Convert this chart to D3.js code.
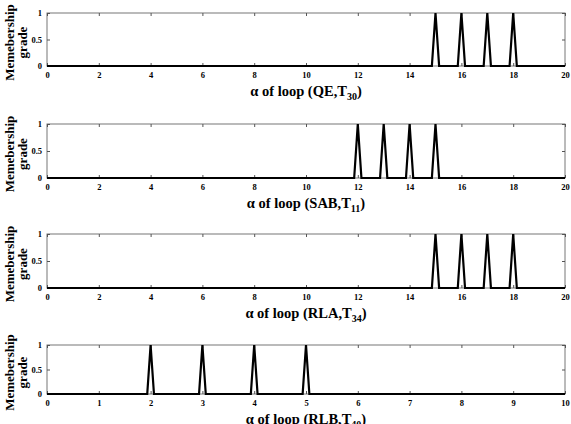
<!DOCTYPE html>
<html>
<head>
<meta charset="utf-8">
<script src="https://cdn.jsdelivr.net/npm/d3@7"></script>
<style>
  body { margin: 0; background: #fff; }
  text { font-family: "Liberation Serif", "Times New Roman", serif; font-weight: bold; fill: #000; }
</style>
</head>
<body>
<svg id="chart"></svg>
<script>
// peaks of each membership function (one triangle per value)
var peaksQE  = [15, 16, 17, 18];
var peaksSAB = [12, 13, 14, 15];
var peaksRLA = [15, 16, 17, 18];
var peaksRLB = [2, 3, 4, 5];

var names    = ["QE", "SAB", "RLA", "RLB"];
var subs     = ["30", "11", "34", "40"];
var xMaxes   = [20, 20, 20, 10];
var xSteps   = [2, 2, 2, 1];
var halfBase = [0.14, 0.14, 0.14, 0.065];
var yTicks   = [0, 0.5, 1];

var panels = [peaksQE, peaksSAB, peaksRLA, peaksRLB];
var tops = [13, 124, 234, 345];
var heights = [53, 54, 54, 49];

var W = 571, H = 424, left = 47, right = 565;

var svg = d3.select("#chart").attr("width", W).attr("height", H);

panels.forEach(function(peaks, i) {
  var top = tops[i], h = heights[i];
  var g = svg.append("g").attr("transform", "translate(0," + top + ")");

  var x = d3.scaleLinear().domain([0, xMaxes[i]]).range([left, right]);
  var y = d3.scaleLinear().domain([0, 1]).range([h, 0]);
  var xt = d3.range(0, xMaxes[i] + 0.001, xSteps[i]);

  // frame
  g.append("rect").attr("x", left).attr("y", 0).attr("width", right - left).attr("height", h)
    .attr("fill", "none").attr("stroke", "#777").attr("stroke-width", 1);

  // x axis bottom
  var xa = g.append("g").attr("transform", "translate(0," + h + ")")
    .call(d3.axisBottom(x).tickValues(xt).tickSize(-3).tickPadding(6).tickFormat(d3.format("d")));
  xa.select(".domain").remove();
  xa.selectAll("line").attr("stroke", "#555");
  xa.selectAll("text").style("font-size", "8.5px");

  // top ticks
  g.append("g").call(d3.axisTop(x).tickValues(xt).tickSize(-3).tickFormat(""))
    .call(function(a) { a.select(".domain").remove(); a.selectAll("line").attr("stroke", "#555"); });

  // y axis
  var ya = g.append("g").attr("transform", "translate(" + left + ",0)")
    .call(d3.axisLeft(y).tickValues(yTicks).tickSize(-3).tickPadding(5).tickFormat(function(d) { return d; }));
  ya.select(".domain").remove();
  ya.selectAll("line").attr("stroke", "#555");
  ya.selectAll("text").style("font-size", "8.5px");

  g.append("g").attr("transform", "translate(" + right + ",0)")
    .call(d3.axisRight(y).tickValues(yTicks).tickSize(-3).tickFormat(""))
    .call(function(a) { a.select(".domain").remove(); a.selectAll("line").attr("stroke", "#555"); });

  // membership line: zero with triangles
  var pts = [[0, 0]];
  peaks.forEach(function(p) {
    pts.push([p - halfBase[i], 0], [p, 1], [p + halfBase[i], 0]);
  });
  pts.push([xMaxes[i], 0]);
  var line = d3.line().x(function(d) { return x(d[0]); }).y(function(d) { return y(d[1]); });
  g.append("path").attr("d", line(pts)).attr("fill", "none")
    .attr("stroke", "#000").attr("stroke-width", 2.2).attr("stroke-linejoin", "miter");

  // y label
  var yl = g.append("text").attr("transform", "translate(16," + (h / 2 + 3) + ") rotate(-90)")
    .attr("text-anchor", "middle").style("font-size", "13px");
  yl.append("tspan").attr("x", 0).attr("dy", -2).text("Memebership");
  yl.append("tspan").attr("x", 0).attr("dy", 13).text("grade");

  // x label
  var xl = g.append("text").attr("x", 306).attr("y", h + 30)
    .attr("text-anchor", "middle").style("font-size", "14.5px");
  xl.append("tspan").text("\u03b1 of loop (" + names[i] + ",T");
  xl.append("tspan").attr("dy", 4).style("font-size", "10px").text(subs[i]);
  xl.append("tspan").attr("dy", -4).text(")");
});
</script>
</body>
</html>
